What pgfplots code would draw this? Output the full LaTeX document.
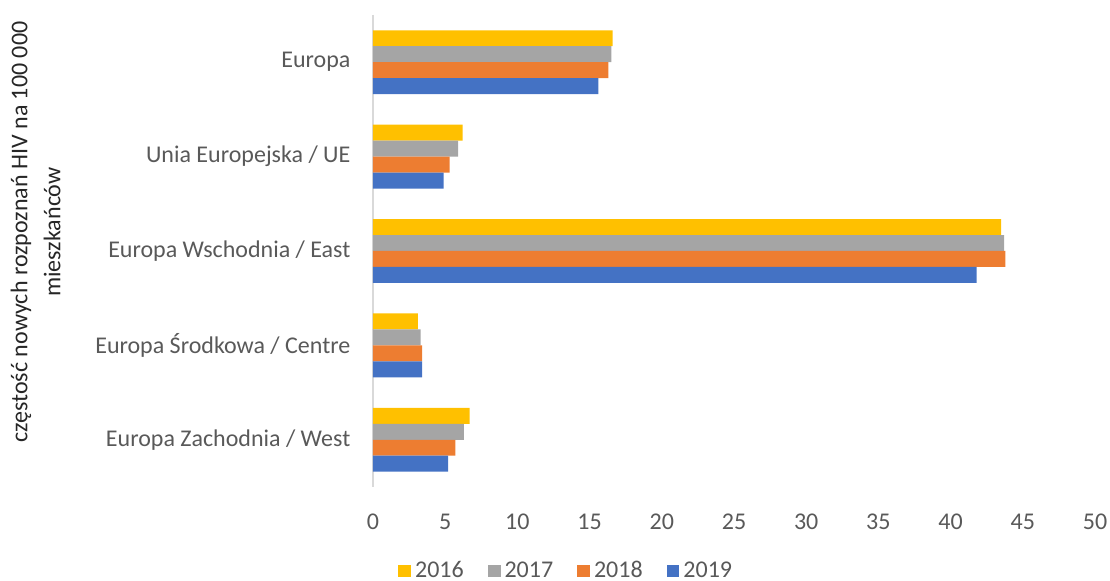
\documentclass[border=0pt]{standalone}
\usepackage{fontspec}
\setmainfont{Carlito}
\usepackage{pgfplots}
\pgfplotsset{compat=1.18}

\definecolor{c2016}{HTML}{FFC000}
\definecolor{c2017}{HTML}{A5A5A5}
\definecolor{c2018}{HTML}{ED7D31}
\definecolor{c2019}{HTML}{4472C4}
\definecolor{txt}{HTML}{595959}
\definecolor{axl}{HTML}{D9D9D9}

\begin{document}
\begin{tikzpicture}
\begin{axis}[
    scale only axis,
    width=361pt, height=236pt,
    xbar=0pt, bar width=0.169,
    y dir=reverse,
    xmin=0, xmax=50, ymin=-0.5, ymax=4.5,
    xtick={0,5,...,50},
    ytick={0,1,2,3,4},
    yticklabels={Europa, Unia Europejska / UE, Europa Wschodnia / East,
                 Europa Środkowa / Centre, Europa Zachodnia / West},
    axis line style={draw=none},
    tick style={draw=none},
    extra x ticks={0}, extra x tick labels={},
    extra x tick style={grid=major, major grid style={draw=axl, line width=1pt}},
    ticklabel style={font=\fontsize{12}{14}\selectfont, text=txt},
    xticklabel style={yshift=-10pt},
    yticklabel style={xshift=-3.5pt},
    /pgf/number format/assume math mode=true,
    ylabel={częstość nowych rozpoznań HIV na 100 000\\mieszkańców},
    every axis y label/.style={at={(axis description cs:-0.4674,0.54)},
        rotate=90, anchor=center, align=center,
        font=\fontsize{12}{16.5}\selectfont, text=black!85},
    legend style={at={(axis description cs:0.269,-0.178)}, anchor=center,
        draw=none, legend columns=-1, font=\fontsize{12}{14}\selectfont,
        text=txt, /tikz/every even column/.append style={column sep=10pt}},
    legend image code/.code={\fill[#1] (0pt,-3.2pt) rectangle (6.4pt,3.2pt);},
]
\addplot[draw=none, fill=c2016] coordinates {(16.6,0) (6.2,1) (43.5,2) (3.1,3) (6.7,4)};
\addlegendentry{2016}
\addplot[draw=none, fill=c2017] coordinates {(16.5,0) (5.9,1) (43.7,2) (3.3,3) (6.3,4)};
\addlegendentry{2017}
\addplot[draw=none, fill=c2018] coordinates {(16.3,0) (5.3,1) (43.8,2) (3.4,3) (5.7,4)};
\addlegendentry{2018}
\addplot[draw=none, fill=c2019] coordinates {(15.6,0) (4.9,1) (41.8,2) (3.4,3) (5.2,4)};
\addlegendentry{2019}
\end{axis}
\pgfresetboundingbox
\path ([shift={(-186.5pt,-47pt)}]current axis.south west)
      rectangle ([shift={(7.5pt,7.5pt)}]current axis.north east);
\end{tikzpicture}
\end{document}
